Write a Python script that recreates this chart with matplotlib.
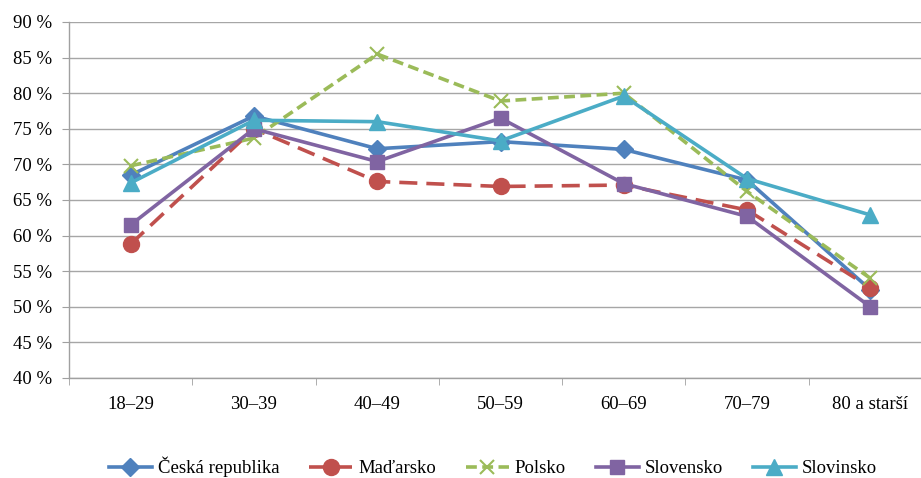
import numpy as np
import matplotlib.pyplot as plt
from matplotlib.ticker import FixedLocator

plt.rcParams['font.family'] = ['Liberation Serif', 'DejaVu Serif']

categories = ["18–29", "30–39", "40–49", "50–59", "60–69", "70–79", "80 a starší"]
ceska = [68.5, 76.8, 72.2, 73.2, 72.1, 67.8, 52.4]
madarsko = [58.8, 75.0, 67.6, 66.9, 67.1, 63.6, 52.7]
polsko = [69.8, 73.7, 85.5, 78.9, 80.0, 66.2, 54.0]
slovensko = [61.5, 75.0, 70.4, 76.5, 67.3, 62.7, 50.0]
slovinsko = [67.4, 76.2, 76.0, 73.3, 79.6, 68.0, 62.9]
yticks = [40, 45, 50, 55, 60, 65, 70, 75, 80, 85, 90]

fig = plt.figure(figsize=(9.21, 4.78), dpi=100)
ax = fig.add_axes([69 / 921, 1 - 378 / 478, 863 / 921, 356 / 478])

x = np.arange(len(categories))
ax.plot(x, ceska, color="#4F81BD", lw=2.6, marker="D", ms=9.5, label="Česká republika")
ax.plot(x, madarsko, color="#C0504D", lw=2.6, ls=(0, (5, 2.5)), marker="o", ms=11.5,
        label="Maďarsko")
ax.plot(x, polsko, color="#9BBB59", lw=2.6, ls=(0, (3, 1.5)), marker="x", ms=10, mew=1.5,
        label="Polsko")
ax.plot(x, slovensko, color="#8064A2", lw=2.6, marker="s", ms=10.5, label="Slovensko")
ax.plot(x, slovinsko, color="#4BACC6", lw=2.6, marker="^", ms=11.5, label="Slovinsko")

ax.set_xlim(-0.5, len(categories) - 0.5)
ax.set_ylim(40, 90)
ax.set_yticks(yticks)
ax.set_yticklabels([f"{v} %" for v in yticks])
ax.set_xticks(x)
ax.set_xticklabels(categories)
ax.xaxis.set_minor_locator(FixedLocator(np.arange(len(categories) + 1) - 0.5))
ax.tick_params(axis="x", which="major", length=0, pad=13, labelsize=13.5)
ax.tick_params(axis="x", which="minor", length=5, color="#A0A0A0", direction="out")
ax.tick_params(axis="y", length=5, color="#A0A0A0", labelsize=13.5, pad=7)

ax.grid(axis="y", color="#A6A6A6", lw=1)
ax.set_axisbelow(True)
for s in ["top", "right"]:
    ax.spines[s].set_visible(False)
for s in ["left", "bottom"]:
    ax.spines[s].set_color("#A0A0A0")
    ax.spines[s].set_linewidth(1)

fig.legend(loc="center", bbox_to_anchor=(0.535, 1 - 467 / 478), ncol=5, frameon=False,
           fontsize=13.5, handlelength=2.3, columnspacing=1.6, handletextpad=0.3)

fig.savefig("out.png", dpi=100)
